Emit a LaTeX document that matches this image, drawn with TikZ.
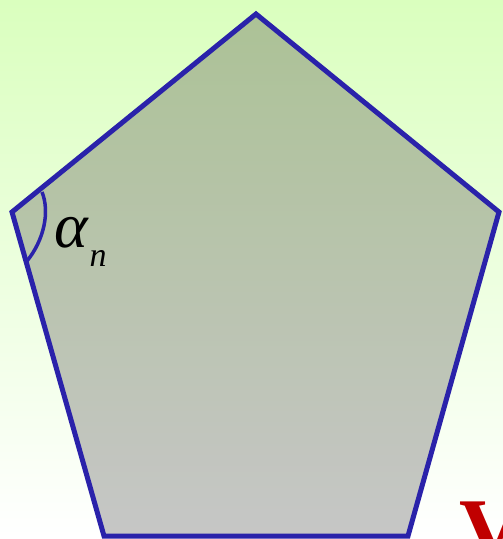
\documentclass[tikz,border=0pt]{standalone}
\usepackage{fontspec}
\newfontfamily\serifb{Liberation Serif}
\begin{document}
\begin{tikzpicture}[x=1pt,y=-1pt,
  edge/.style={draw=pentblue,line width=5pt,line join=miter},
  arcline/.style={draw=pentblue,line width=3.5pt}]
\definecolor{pentblue}{HTML}{2A22AA}
\definecolor{bgtop}{HTML}{DAFFBE}
\definecolor{filltop}{HTML}{ACC296}
\definecolor{fillbot}{HTML}{C6C6C6}
\definecolor{vred}{HTML}{C00000}
\useasboundingbox (0,0) rectangle (503,539);
\clip (0,0) rectangle (503,539);
\shade[top color=bgtop,bottom color=white] (0,0) rectangle (503,539);
\coordinate (T) at (256,14);
\coordinate (R) at (499,212);
\coordinate (BR) at (408,536);
\coordinate (BL) at (104,536);
\coordinate (L) at (12,212);
\shade[top color=filltop,bottom color=fillbot] (T) -- (R) -- (BR) -- (BL) -- (L) -- cycle;
\draw[edge] (T) -- (R) -- (BR) -- (BL) -- (L) -- cycle;
\coordinate (A1) at (42,192);
\coordinate (A2) at (27,261);
\draw[arcline] (A1) .. controls (50,212) and (44,240) .. (A2);
\node[anchor=center,inner sep=0pt] (alpha) at (71,233) {\fontsize{64}{64}\selectfont\serifb\itshape α};
\node[anchor=center,inner sep=0pt] (n) at (98,258) {\fontsize{34}{34}\selectfont\serifb\itshape n};
\node[anchor=north west,inner sep=0pt,text=vred] (V) at (459,502) {\fontsize{88}{88}\selectfont\serifb\bfseries V};
\end{tikzpicture}
\end{document}
